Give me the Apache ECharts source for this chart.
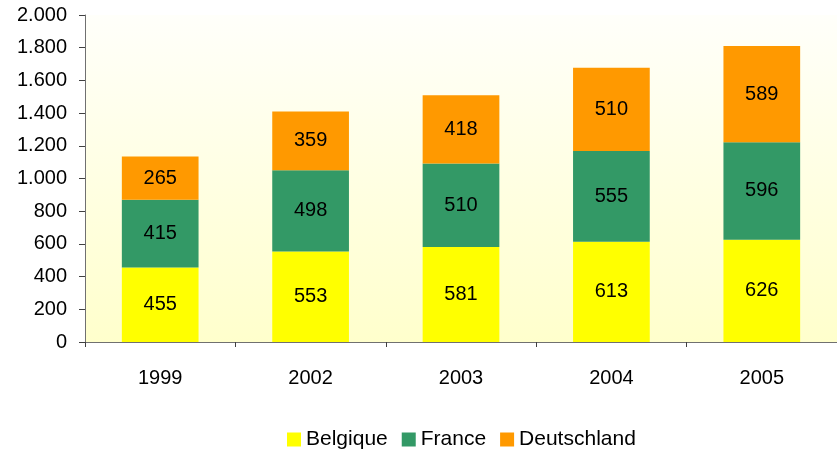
<!DOCTYPE html>
<html>
<head>
<meta charset="utf-8">
<script src="https://cdn.jsdelivr.net/npm/echarts@6/dist/echarts.min.js"></script>
<style>
	html, body { margin: 0; padding: 0; background: #fff; }
	#chart { width: 837px; height: 455px; }
</style>
</head>
<body>
<div id="chart"></div>
<script>
var years = ['1999', '2002', '2003', '2004', '2005'];
var belgique = [455, 553, 581, 613, 626];
var france = [415, 498, 510, 555, 596];
var deutschland = [265, 359, 418, 510, 589];

var font = 'Liberation Sans, Arial, sans-serif';

function thousands(v) {
	return String(v).replace(/\B(?=(\d{3})+(?!\d))/g, '.');
}

function barSeries(name, data, color) {
	return {
		name: name,
		type: 'bar',
		stack: 'total',
		data: data,
		barWidth: '51%',
		itemStyle: { color: color },
		label: {
			show: true,
			position: 'inside',
			color: '#000',
			fontFamily: font,
			fontSize: 20
		}
	};
}

var myChart = echarts.init(document.getElementById('chart'));
myChart.setOption({
	animation: false,
	grid: {
		left: 85,
		right: 0,
		top: 15,
		bottom: 113,
		show: true,
		borderWidth: 0,
		backgroundColor: {
			type: 'linear', x: 0, y: 0, x2: 0, y2: 1,
			colorStops: [
				{ offset: 0, color: '#FFFFFA' },
				{ offset: 1, color: '#FFFFCC' }
			]
		}
	},
	legend: {
		bottom: 0,
		left: 282,
		padding: 5,
		itemWidth: 14,
		itemHeight: 14,
		itemGap: 14,
		icon: 'rect',
		textStyle: { fontFamily: font, fontSize: 21, color: '#000' },
		data: ['Belgique', 'France', 'Deutschland']
	},
	xAxis: {
		type: 'category',
		data: years,
		axisLine: { lineStyle: { color: '#707070', width: 1 } },
		axisTick: { show: true, alignWithLabel: false, length: 5, lineStyle: { color: '#404040' } },
		axisLabel: { color: '#000', fontFamily: font, fontSize: 20, margin: 26 }
	},
	yAxis: {
		type: 'value',
		min: 0,
		max: 2000,
		interval: 200,
		axisLine: { show: true, lineStyle: { color: '#707070', width: 1 } },
		axisTick: { show: true, length: 6, lineStyle: { color: '#404040' } },
		splitLine: { show: false },
		axisLabel: {
			color: '#000',
			fontFamily: font,
			fontSize: 20,
			margin: 18,
			formatter: thousands
		}
	},
	series: [
		barSeries('Belgique', belgique, '#FFFF00'),
		barSeries('France', france, '#339966'),
		barSeries('Deutschland', deutschland, '#FF9900')
	]
});
</script>
</body>
</html>
